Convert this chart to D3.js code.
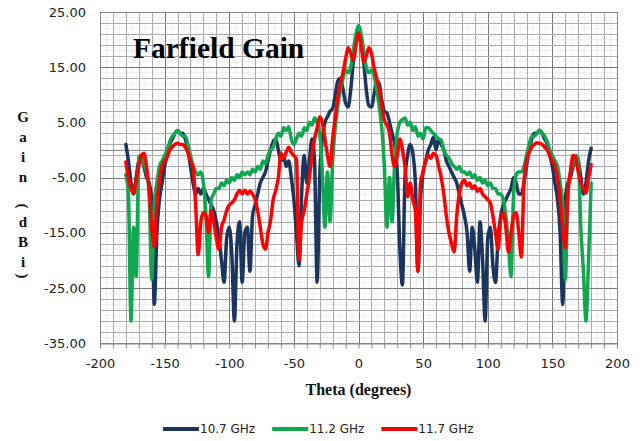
<!DOCTYPE html>
<html>
<head>
<meta charset="utf-8">
<script src="https://cdn.jsdelivr.net/npm/d3@7/dist/d3.min.js"></script>
<style>
  body { margin: 0; background: #fff; }
  svg { display: block; }
</style>
</head>
<body>
<svg id="chart" width="640" height="441"></svg>
<script>
// Angle samples (degrees)
const theta = [
  -180,-178,-176,-174,-172,-170,-168,-166,-164,-162,
  -160,-158,-156,-154,-152,-150,-148,-146,-144,-142,
  -140,-138,-136,-134,-132,-130,-128,-126,-124,-122,
  -120,-118,-116,-114,-112,-110,-108,-106,-104,-102,
  -100,-98,-96,-94,-92,-90,-88,-86,-84,-82,
  -80,-78,-76,-74,-72,-70,-68,-66,-64,-62,
  -60,-58,-56,-54,-52,-50,-48,-46,-44,-42,
  -40,-38,-36,-34,-32,-30,-28,-26,-24,-22,
  -20,-18,-16,-14,-12,-10,-8,-6,-4,-2,
  0,2,4,6,8,10,12,14,16,18,
  20,22,24,26,28,30,32,34,36,38,
  40,42,44,46,48,50,52,54,56,58,
  60,62,64,66,68,70,72,74,76,78,
  80,82,84,86,88,90,92,94,96,98,
  100,102,104,106,108,110,112,114,116,118,
  120,122,124,126,128,130,132,134,136,138,
  140,142,144,146,148,150,152,154,156,158,
  160,162,164,166,168,170,172,174,176,178,
  180
];

// Gain (dBi) at 10.7 GHz
const gain107 = [
  1,-2,-6,-8,-5,-2,-1.5,-3,-5,-6,
  -9,-28,-15,-9,-6,-3,-1,1,2,3,
  3.5,3,3,2,0,-3,-6,-8,-7,-8,
  -7,-8,-9,-10,-11,-13,-16,-20,-24,-16,
  -14,-19,-31,-17,-13,-24,-15,-14,-22,-12,
  -10,-8,-6,-5,-4,-2,0,1.5,2,0,
  -2,-1,-3,-2,-5,-9,-15,-21,-8,-1,
  -6,-2,2,-2,-24,-5,2,5,6,7,
  7.5,10,12.5,13,11,8.5,7.8,11,16,20,
  21.7,20,16,11,8,7.8,10,12.5,12,9,
  7,6.7,5,3,1,-4,-18,-24.5,-5,-1,
  1,-0.6,-6,-22,-9,-4,-2,0,1,2.3,
  0,2,1,0,-2,-3,-4,-5,-6,-8,
  -10,-12,-15,-22,-14,-18,-24,-13,-20,-31,
  -16,-14,-21,-24,-16,-12,-10,-9,-8,-7,
  -5,-6,-8,-8,-6,-3,0,2,3,3,
  3.5,3,2,1,-1,-3,-6,-9,-15,-28,
  -9,-6,-5,-3,-1.5,-2,-5,-8,-6,-2,
  0.3
];

// Gain (dBi) at 11.2 GHz
const gain112 = [
  -4.5,-8,-31,-14,-23,-1.3,-1,-2.5,-4,-8,
  -23.5,-10,-6,-3,-2,-1,0,1.5,2.5,3,
  3.5,3,2.5,2.5,1,-1,-3,-4,-4.5,-4,
  -6,-12,-23,-9,-8,-7,-7,-6,-6.5,-5.5,
  -6,-5,-5.5,-4.5,-5,-4,-4.5,-4,-4.5,-3.5,
  -4,-3,-3.5,-2,-2.5,-1,0,0.5,2,3,
  2.5,4,3.5,4.2,2,1,2,3,2.5,4,
  3.5,5,4.5,5.8,5,3,-4,-14,-4,-13,
  -2,4,8,11,13,14.5,14,15,18,21,
  22.5,21,18,15,14,14.5,13.5,11,8,4,
  -3,-14,-5,-13,-2,3,5,5.5,5.8,4.5,
  5,3.5,4.2,2.5,3,2,4,4,3.5,3,
  2.5,2,1.8,0,-1,-1.5,-2.4,-3,-3.5,-3,
  -4,-4,-4.5,-4,-5,-4.5,-5.5,-5,-6,-5.5,
  -6.5,-6,-7,-7,-8,-8,-9,-12,-17,-23,
  -8,-4.5,-4,-4,-3,-1,1,2.5,2.5,3,
  3.6,3,2.5,1.5,0,-1,-2,-3,-6,-10,
  -23.6,-8,-4,-2.5,-1,-1.5,-14,-22,-31,-20,
  -6
];

// Gain (dBi) at 11.7 GHz
const gain117 = [
  -2.2,-5,-7,-7.8,-5.5,-3,-1,-0.6,-3,-7,
  -14,-17.6,-10,-5.5,-3,-2,-1.3,0,0.5,1,
  1.2,1,1,0.5,-0.5,-2,-3,-10,-19,-13,
  -11.4,-12,-15,-11,-13,-16,-18,-14,-12.7,-11,
  -10,-9.6,-9,-8,-7.3,-8,-7.3,-8,-7.5,-8,
  -9,-11,-14,-17,-18,-15,-12.7,-9,-7.3,-5,
  -0.6,-1.5,-0.5,0.5,-0.5,-1,-1.8,-20,-13,-11,
  -8,-5,-1,2,4,6,5,2,-1,-3,
  2,6,9.5,12,14,16.5,18.5,17.5,16.2,19,
  21.2,19,16,17,18.5,17.5,15,13,11,8,
  5.4,4.5,3,-1,-3,-1,2,0,-3,-8.5,
  -6,-9,-11,-22,-6,-4,-2,-1,-1.5,-0.6,
  -1,-3,-5,-8,-12,-15,-17,-18.5,-12,-8,
  -6,-5.5,-6.5,-6,-7,-6.5,-7.5,-7,-8,-8.5,
  -9,-9.6,-12,-15,-18,-12.7,-11.4,-14,-18.5,-15,
  -12,-11.4,-15,-19.4,-6,-2,-0.5,0.5,1,1.3,
  1.2,1,0.5,0,-1,-2,-3,-5,-9,-14,
  -17.8,-8,-4,-1,-1.5,-4,-6,-7,-7.8,-5,
  -2.7
];

const seriesNames = ["10.7 GHz", "11.2 GHz", "11.7 GHz"];
const seriesValues = [gain107, gain112, gain117];
const seriesColors = ["#1c355e", "#0fa750", "#ff0000"];

const xTickLabels = [-200, -150, -100, -50, 0, 50, 100, 150, 200];
const yTickLabels = [-35, -25, -15, -5, 5, 15, 25];

const titleText = "Farfield Gain";
const xTitleText = "Theta (degrees)";
const yTitleChars = ["G", "a", "i", "n", "(", "d", "B", "i", ")"];

// ---- layout ----
const svg = d3.select("#chart");
const plot = { left: 100, right: 617, top: 12, bottom: 343 };

const x = d3.scaleLinear().domain([-200, 200]).range([plot.left, plot.right]);
const y = d3.scaleLinear().domain([-35, 25]).range([plot.bottom, plot.top]);

const grid = svg.append("g");

// faint sub-grid
grid.selectAll("line.fx")
  .data(d3.range(-195, 200, 10))
  .join("line")
  .attr("x1", d => x(d)).attr("x2", d => x(d))
  .attr("y1", plot.top).attr("y2", plot.bottom)
  .attr("stroke", "#efefef").attr("stroke-width", 1);
grid.selectAll("line.fy")
  .data(d3.range(-34, 25, 2))
  .join("line")
  .attr("x1", plot.left).attr("x2", plot.right)
  .attr("y1", d => y(d)).attr("y2", d => y(d))
  .attr("stroke", "#efefef").attr("stroke-width", 1);

// vertical grid every 10 degrees, heavier every 50
grid.selectAll("line.vx")
  .data(d3.range(-200, 201, 10))
  .join("line")
  .attr("x1", d => Math.round(x(d)) + 0.5).attr("x2", d => Math.round(x(d)) + 0.5)
  .attr("y1", plot.top).attr("y2", plot.bottom)
  .attr("stroke", d => d % 50 === 0 ? "#7a7a7a" : "#adadad")
  .attr("stroke-width", 1);

// horizontal grid every 2 dB, heavier every 10
grid.selectAll("line.hy")
  .data(d3.range(-35, 26, 2))
  .join("line")
  .attr("x1", plot.left).attr("x2", plot.right)
  .attr("y1", d => Math.round(y(d)) + 0.5).attr("y2", d => Math.round(y(d)) + 0.5)
  .attr("stroke", d => (d + 35) % 10 === 0 ? "#7a7a7a" : "#adadad")
  .attr("stroke-width", 1);

// zero line
grid.append("line")
  .attr("x1", plot.left).attr("x2", plot.right)
  .attr("y1", Math.round(y(0)) + 0.5).attr("y2", Math.round(y(0)) + 0.5)
  .attr("stroke", "#8a8a8a").attr("stroke-width", 1);

// plot frame
grid.append("rect")
  .attr("x", plot.left + 0.5).attr("y", plot.top + 0.5)
  .attr("width", plot.right - plot.left).attr("height", plot.bottom - plot.top)
  .attr("fill", "none").attr("stroke", "#868686");

// ---- axes ----
const xAxis = d3.axisBottom(x)
  .tickValues(d3.range(-200, 201, 10))
  .tickSize(5)
  .tickPadding(10)
  .tickFormat(d => xTickLabels.includes(d) ? String(d) : "");
const gx = svg.append("g")
  .attr("transform", `translate(0,${plot.bottom + 0.5})`)
  .call(xAxis);
gx.select(".domain").attr("stroke", "#868686");
gx.selectAll(".tick line").attr("stroke", "#868686");
gx.selectAll(".tick text")
  .attr("font-family", "DejaVu Sans, sans-serif")
  .attr("font-size", 13).attr("fill", "#222");

const yAxis = d3.axisLeft(y)
  .tickValues(yTickLabels)
  .tickSize(0)
  .tickPadding(14)
  .tickFormat(d => d.toFixed(2));
const gy = svg.append("g")
  .attr("transform", `translate(${plot.left},0)`)
  .call(yAxis);
gy.select(".domain").remove();
gy.selectAll(".tick text")
  .attr("font-family", "DejaVu Sans, sans-serif")
  .attr("font-size", 13).attr("fill", "#222");

// ---- series ----
const line = d3.line()
  .x((d, i) => x(theta[i]))
  .y(d => y(d))
  .curve(d3.curveMonotoneX);

svg.append("g")
  .selectAll("path")
  .data(seriesValues)
  .join("path")
  .attr("d", d => line(d))
  .attr("fill", "none")
  .attr("stroke", (d, i) => seriesColors[i])
  .attr("stroke-width", 3.5)
  .attr("stroke-linejoin", "round")
  .attr("stroke-linecap", "round");

// ---- titles ----
svg.append("text")
  .attr("x", 133).attr("y", 58)
  .attr("font-family", "Liberation Serif, serif")
  .attr("font-weight", "bold").attr("font-size", 29.5)
  .attr("fill", "#000")
  .text(titleText);

svg.append("text")
  .attr("x", x(0)).attr("y", 395)
  .attr("text-anchor", "middle")
  .attr("font-family", "Liberation Serif, serif")
  .attr("font-weight", "bold").attr("font-size", 16)
  .attr("fill", "#111")
  .text(xTitleText);

const yCharPos = [117, 137, 157, 177, 206, 222, 242, 262, 276];
svg.append("g").selectAll("text")
  .data(yTitleChars)
  .join("text")
  .attr("transform", (c, i) => {
    const r = (c === "(" || c === ")") ? " rotate(90)" : "";
    return `translate(23,${yCharPos[i]})${r}`;
  })
  .attr("text-anchor", "middle")
  .attr("dominant-baseline", "central")
  .attr("font-family", "Liberation Serif, serif")
  .attr("font-weight", "bold").attr("font-size", 15)
  .attr("fill", "#111")
  .text(c => c);

// ---- legend ----
const legend = svg.append("g").attr("transform", "translate(0,429)");
let lx = 163;
seriesNames.forEach((name, i) => {
  legend.append("line")
    .attr("x1", lx).attr("x2", lx + 36)
    .attr("y1", 0).attr("y2", 0)
    .attr("stroke", seriesColors[i]).attr("stroke-width", 4);
  const t = legend.append("text")
    .attr("x", lx + 37).attr("y", 0)
    .attr("dominant-baseline", "central")
    .attr("font-family", "DejaVu Sans, sans-serif")
    .attr("font-size", 12).attr("fill", "#222")
    .text(name);
  lx += 37 + t.node().getComputedTextLength() + 17;
});
</script>
</body>
</html>
